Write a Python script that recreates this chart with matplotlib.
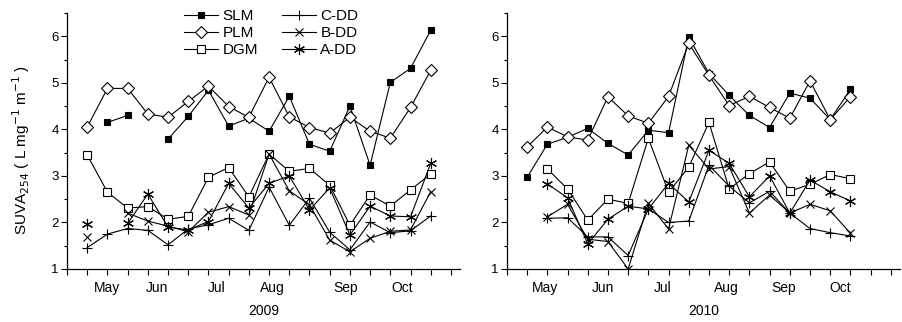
import numpy as np
import matplotlib
matplotlib.use('Agg')
import matplotlib.pyplot as plt

plt.rcParams['font.family'] = ['Liberation Sans', 'DejaVu Sans']

nan = np.nan

# sample numbers (roughly twice a month)
samples_09 = list(range(1, 19))
samples_10 = list(range(1, 18))

slm_09 = [nan, 4.15, 4.30, nan, 3.79, 4.28, 4.84, 4.07, 4.24, 3.96, 4.71, 3.68, 3.53, 4.50, 3.23, 5.01, 5.31, 6.13]
plm_09 = [4.05, 4.88, 4.88, 4.33, 4.26, 4.60, 4.93, 4.49, 4.26, 5.12, 4.27, 4.04, 3.92, 4.26, 3.96, 3.81, 4.47, 5.27]
dgm_09 = [3.45, 2.65, 2.31, 2.34, 2.07, 2.13, 2.97, 3.18, 2.55, 3.47, 3.10, 3.16, 2.80, 1.94, 2.59, 2.35, 2.70, 3.04]
cdd_09 = [1.46, 1.75, 1.87, 1.83, 1.52, 1.86, 1.95, 2.09, 1.83, 2.76, 1.94, 2.52, 1.79, 1.41, 2.01, 1.78, 1.82, 2.14]
bdd_09 = [1.69, nan, 2.20, 2.03, 1.92, 1.80, 2.22, 2.34, 2.16, 3.47, 2.68, 2.38, 1.62, 1.37, 1.66, 1.81, 1.84, 2.66]
add_09 = [1.96, nan, 1.98, 2.61, 1.90, 1.84, 2.02, 2.84, 2.31, 2.84, 3.00, 2.27, 2.74, 1.73, 2.35, 2.14, 2.12, 3.27]

slm_10 = [2.97, 3.68, 3.83, 4.02, 3.70, 3.45, 3.98, 3.93, 5.98, 5.20, 4.73, 4.30, 4.04, 4.78, 4.67, 4.21, 4.86]
plm_10 = [3.62, 4.05, 3.84, 3.77, 4.70, 4.29, 4.13, 4.71, 5.85, 5.16, 4.51, 4.71, 4.47, 4.24, 5.04, 4.21, 4.70]
dgm_10 = [nan, 3.15, 2.72, 2.05, 2.50, 2.41, 3.81, 2.65, 3.19, 4.15, 2.72, 3.05, 3.30, 2.67, 2.82, 3.03, 2.94]
cdd_10 = [nan, 2.09, 2.10, 1.69, 1.69, 1.29, 2.29, 2.00, 2.03, 3.23, 2.78, 2.42, 2.67, 2.20, 1.87, 1.78, 1.71]
bdd_10 = [nan, 2.12, 2.39, 1.64, 1.59, 1.00, 2.41, 1.86, 3.66, 3.15, 3.20, 2.20, 2.59, 2.20, 2.39, 2.25, 1.77]
add_10 = [nan, 2.83, 2.53, 1.54, 2.07, 2.35, 2.29, 2.84, 2.44, 3.55, 3.27, 2.55, 3.00, 2.20, 2.91, 2.66, 2.46]

months = ['May', 'Jun', 'Jul', 'Aug', 'Sep', 'Oct']
month_pos_09 = [1.98, 4.46, 7.43, 10.15, 13.8, 16.6]
month_pos_10 = [1.88, 4.75, 7.7, 10.85, 13.7, 16.5]

# series style: label -> (marker, face, size)
styles = [
    ('SLM', 's', 'black', 5),
    ('PLM', 'D', 'white', 6),
    ('DGM', 's', 'white', 6),
    ('C-DD', '+', 'black', 7),
    ('B-DD', 'x', 'black', 6),
    ('A-DD', (6, 2, 0), 'black', 8),
]

fig = plt.figure(figsize=(9.02, 3.22), dpi=100)
ax1 = fig.add_axes([0.0743, 0.1646, 0.4357, 0.795])
ax2 = fig.add_axes([0.562, 0.1646, 0.4357, 0.795])

panels = [
    (ax1, samples_09, [slm_09, plm_09, dgm_09, cdd_09, bdd_09, add_09], month_pos_09, '2009'),
    (ax2, samples_10, [slm_10, plm_10, dgm_10, cdd_10, bdd_10, add_10], month_pos_10, '2010'),
]

for ax, xs, series, mpos, year in panels:
    for (lab, mk, fc, ms), ys in zip(styles, series):
        ax.plot(xs, ys, color='black', lw=0.8, marker=mk, ms=ms,
                mfc=fc, mec='black', mew=0.8, label=lab)
    ax.set_xlim(0, 19.45)
    ax.set_ylim(1, 6.5)
    ax.spines['top'].set_visible(False)
    ax.spines['right'].set_visible(False)
    ax.spines['left'].set_linewidth(0.9)
    ax.spines['bottom'].set_linewidth(0.9)
    ax.set_xticks(np.arange(0, 20))
    ax.set_xticklabels([])
    ax.set_xticks(mpos, minor=True)
    ax.set_xticklabels(months, minor=True, fontsize=10)
    ax.tick_params(axis='x', which='major', direction='out', length=4, width=0.8)
    ax.tick_params(axis='x', which='minor', length=0, pad=9)
    ax.set_yticks([1, 2, 3, 4, 5, 6])
    ax.set_yticks(np.arange(1.5, 6.6, 1.0), minor=True)
    ax.tick_params(axis='y', which='major', direction='out', length=4, width=0.8, labelsize=9.5, pad=2)
    ax.tick_params(axis='y', which='minor', direction='out', length=2.5, width=0.8)
    ax.set_xlabel(year, fontsize=10, labelpad=6)

ax1.set_ylabel('SUVA$_{254}$ ( L mg$^{-1}$ m$^{-1}$ )', fontsize=11)
ax1.yaxis.set_label_coords(-0.09, 0.465)

leg = ax1.legend(ncol=2, loc='upper left', bbox_to_anchor=(0.298, 1.015),
                 frameon=False, fontsize=11, numpoints=1, handlelength=2.2,
                 handletextpad=0.3, columnspacing=1.6, labelspacing=0.2,
                 borderpad=0, borderaxespad=0)

fig.savefig('out.png', dpi=100)
